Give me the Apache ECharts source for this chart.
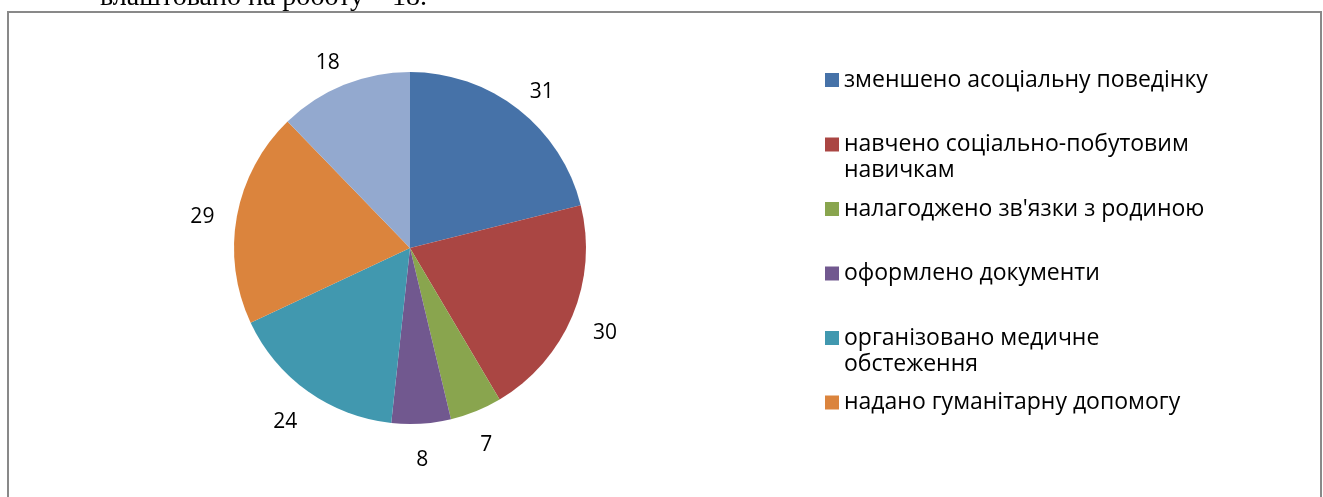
<!DOCTYPE html>
<html>
<head>
<meta charset="utf-8">
<script src="https://cdn.jsdelivr.net/npm/echarts@6/dist/echarts.min.js"></script>
<style>
html, body { margin: 0; padding: 0; background: #fff; }
#main { width: 1323px; height: 497px; }
</style>
</head>
<body>
<div id="main"></div>
<script>
// categories (legend shows the first six only)
var names = [
    'зменшено асоціальну поведінку',
    'навчено соціально-побутовим\nнавичкам',
    "налагоджено зв'язки з родиною",
    'оформлено документи',
    'організовано медичне\nобстеження',
    'надано гуманітарну допомогу',
    'влаштовано на роботу'
];
var values = [31, 30, 7, 8, 24, 29, 18];
var colors = ['#4672A8', '#AA4643', '#89A54E', '#71588F', '#4198AF', '#DB843D', '#93A9CF'];
var headline = 'влаштовано на роботу – 18.';

(function(){
    var myChart = echarts.init(document.getElementById('main'));

    var pieData = names.map(function (n, i) {
        return {name: n, value: values[i], itemStyle: {color: colors[i]}};
    });

    option = {
        backgroundColor: '#fff',
        animation: false,
        graphic: [
            {
                type: 'rect',
                shape: {x: 8, y: 12, width: 1313, height: 500},
                style: {fill: 'none', stroke: '#898989', lineWidth: 2}
            },
            {
                type: 'text',
                x: 100,
                y: 12,
                style: {
                    text: headline,
                    font: '28px "Liberation Serif", serif',
                    fill: '#000',
                    verticalAlign: 'bottom'
                }
            }
        ],
        legend: {
            orient: 'vertical',
            left: 825,
            top: 41,
            padding: 0,
            itemGap: -13.5,
            itemWidth: 14,
            itemHeight: 14,
            icon: 'rect',
            data: names.slice(0, 6),
            // every entry takes three lines: blank, first line (level with the icon), second line
            formatter: function (n) {
                return ' \n' + (n.indexOf('\n') < 0 ? n + '\n ' : n);
            },
            textStyle: {
                fontFamily: 'Open Sans',
                fontSize: 23,
                color: '#000',
                lineHeight: 26
            }
        },
        series: [
            {
                name: 'результати',
                type: 'pie',
                center: [410, 248],
                radius: 176,
                startAngle: 90,
                clockwise: true,
                avoidLabelOverlap: false,
                data: pieData,
                label: {
                    show: true,
                    position: 'outside',
                    // blank first line nudges the number a few px down
                    formatter: ' \n{c}',
                    fontFamily: 'Open Sans',
                    fontSize: 21,
                    lineHeight: 12,
                    color: '#000'
                },
                labelLine: {
                    show: false,
                    length: 30,
                    length2: -12
                },
                itemStyle: {borderWidth: 0}
            }
        ]
    };
    myChart.setOption(option);
})();
</script>
</body>
</html>
